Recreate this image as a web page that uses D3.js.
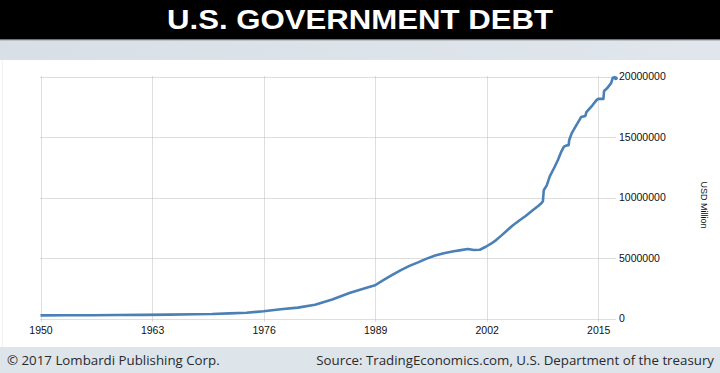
<!DOCTYPE html>
<html>
<head>
<meta charset="utf-8">
<script src="https://cdn.jsdelivr.net/npm/d3@7"></script>
<style>
  body { margin: 0; background: #fff; }
  svg { display: block; }
</style>
</head>
<body>
<div id="chart"></div>
<script>
// decimal years and total debt (USD million)
var years = [1950, 1953, 1956, 1959, 1962, 1965, 1968, 1970, 1972, 1974, 1976, 1978, 1980, 1982, 1984, 1986, 1988, 1989,
  1990, 1991, 1992, 1993, 1994, 1995, 1996, 1997, 1998, 1999, 1999.8, 2000.5, 2001.2, 2001.9, 2002.5, 2003.1, 2003.7,
  2004.4, 2005.1, 2005.8, 2006.5, 2007.4, 2008.0, 2008.4, 2008.55, 2008.65, 2009.0, 2009.35, 2009.9, 2010.3, 2010.7,
  2011.0, 2011.3, 2011.55, 2011.62, 2011.9, 2012.3, 2012.8, 2013.0, 2013.5, 2013.62, 2013.8, 2014.3, 2014.8, 2015.0,
  2015.6, 2015.68, 2016.0, 2016.5, 2016.7, 2016.9, 2017.05];
var debt = [257000, 266000, 273000, 285000, 303000, 317000, 347000, 370000, 427000, 475000, 600000, 770000, 900000, 1140000, 1570000, 2100000, 2550000, 2750000,
  3200000, 3600000, 4000000, 4350000, 4640000, 4950000, 5200000, 5400000, 5540000, 5650000, 5750000, 5660000, 5680000, 5930000, 6180000, 6480000, 6850000,
  7300000, 7730000, 8100000, 8450000, 8970000, 9300000, 9550000, 9700000, 10600000, 11000000, 11750000, 12500000, 13100000, 13800000,
  14200000, 14300000, 14330000, 14750000, 15300000, 15800000, 16400000, 16650000, 16740000, 17050000, 17200000, 17600000, 18050000, 18150000,
  18150000, 18800000, 19000000, 19450000, 19900000, 19950000, 19850000];
var yearTicks = [1950, 1963, 1976, 1989, 2002, 2015];
var valueTicks = [0, 5000000, 10000000, 15000000, 20000000];

var W = 720, H = 373;
var svg = d3.select("#chart").append("svg").attr("width", W).attr("height", H);

// header
svg.append("rect").attr("x", 0).attr("y", 0).attr("width", W).attr("height", 39).attr("fill", "#000");
var grad = svg.append("defs").append("linearGradient").attr("id", "band");
grad.append("stop").attr("offset", "0%").attr("stop-color", "#d8dfe6");
grad.append("stop").attr("offset", "100%").attr("stop-color", "#e0e6ec");
svg.append("rect").attr("x", 0).attr("y", 39).attr("width", W).attr("height", 21).attr("fill", "url(#band)");
svg.append("rect").attr("x", 0).attr("y", 39).attr("width", W).attr("height", 1).attr("fill", "#6f7479");
svg.append("rect").attr("x", 0).attr("y", 40).attr("width", W).attr("height", 1).attr("fill", "#b9c1c9");
svg.append("text")
  .attr("x", 360).attr("y", 29)
  .attr("text-anchor", "middle")
  .attr("textLength", 386).attr("lengthAdjust", "spacingAndGlyphs")
  .style("font-family", "'Liberation Sans', Arial, sans-serif")
  .style("font-weight", "bold").style("font-size", "28px")
  .attr("fill", "#fff")
  .text("U.S. GOVERNMENT DEBT");

// faint left edge
svg.append("rect").attr("x", 2).attr("y", 60).attr("width", 1).attr("height", 287).attr("fill", "#f2f2f2");

// footer
svg.append("rect").attr("x", 0).attr("y", 347).attr("width", W).attr("height", 26).attr("fill", "#dde4ea");
svg.append("text")
  .attr("x", 7).attr("y", 364.5)
  .style("font-family", "'Open Sans', sans-serif").style("font-size", "13.3px")
  .attr("fill", "#2a2a2a")
  .text("\u00a9 2017 Lombardi Publishing Corp.");
svg.append("text")
  .attr("x", 714).attr("y", 364.5)
  .attr("text-anchor", "end")
  .style("font-family", "'Open Sans', sans-serif").style("font-size", "13.3px")
  .attr("fill", "#2a2a2a")
  .text("Source: TradingEconomics.com, U.S. Department of the treasury");

// scales
var x = d3.scaleLinear().domain([1950, 2017.07]).range([40.5, 616]);
var y = d3.scaleLinear().domain([0, 20000000]).range([318.5, 76.5]);

// grid
var grid = svg.append("g").attr("stroke", "#bdbdbd").attr("stroke-width", 1).attr("stroke-dasharray", "1,1");
grid.selectAll("line.h").data(valueTicks).enter().append("line")
  .attr("class", "h")
  .attr("x1", x(1950)).attr("x2", x.range()[1])
  .attr("y1", function(d) { return Math.round(y(d)) + 0.5; })
  .attr("y2", function(d) { return Math.round(y(d)) + 0.5; });
grid.selectAll("line.v").data(yearTicks).enter().append("line")
  .attr("class", "v")
  .attr("x1", function(d) { return Math.round(x(d)) + 0.5; })
  .attr("x2", function(d) { return Math.round(x(d)) + 0.5; })
  .attr("y1", y(20000000)).attr("y2", y(0) + 4);

// axes
var xAxis = svg.append("g")
  .attr("transform", "translate(0," + (y(0) + 4) + ")")
  .call(d3.axisBottom(x).tickValues(yearTicks).tickFormat(d3.format("d")).tickSize(0).tickPadding(4));
var yAxis = svg.append("g")
  .attr("transform", "translate(" + (x.range()[1] + 3) + ",0)")
  .call(d3.axisRight(y).tickValues(valueTicks).tickFormat(d3.format("d")).tickSize(0).tickPadding(0));
[xAxis, yAxis].forEach(function(a) {
  a.select(".domain").remove();
  a.selectAll("text")
    .style("font-family", "'Liberation Sans', Arial, sans-serif")
    .style("font-size", "10.5px")
    .attr("fill", "#111");
});

svg.append("text")
  .attr("transform", "translate(701,205) rotate(90)")
  .attr("text-anchor", "middle")
  .style("font-family", "'Liberation Sans', Arial, sans-serif")
  .style("font-size", "9px")
  .attr("fill", "#111")
  .text("USD Million");

// the series
var pts = years.map(function(d, i) { return [d, debt[i]]; });
var line = d3.line()
  .x(function(d) { return x(d[0]); })
  .y(function(d) { return y(d[1]); });
svg.append("path")
  .datum(pts)
  .attr("d", line)
  .attr("fill", "none")
  .attr("stroke", "#4a80b6")
  .attr("stroke-width", 2.6)
  .attr("stroke-linejoin", "round");
var last = pts[pts.length - 1];
svg.append("circle")
  .attr("cx", x(last[0])).attr("cy", y(last[1])).attr("r", 2)
  .attr("fill", "#4a80b6");
</script>
</body>
</html>
